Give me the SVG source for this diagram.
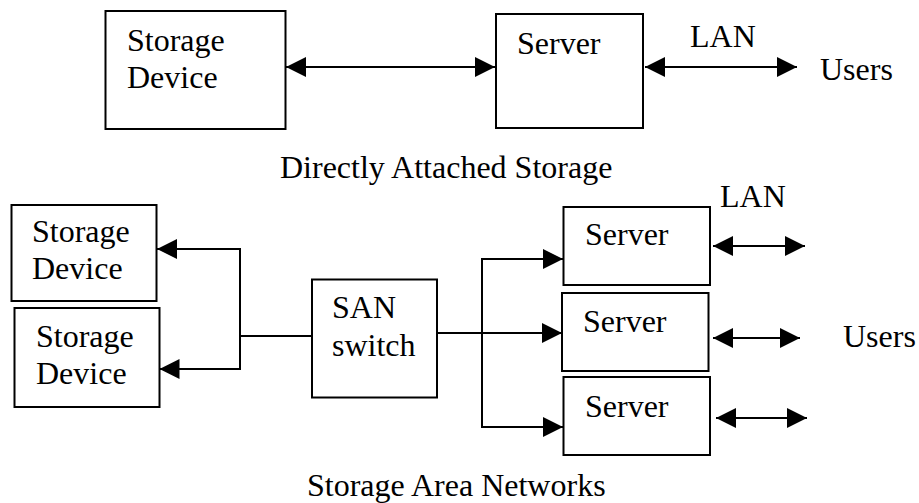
<svg xmlns="http://www.w3.org/2000/svg" width="919" height="503" viewBox="0 0 919 503">
<style>
  .box{fill:#fff;stroke:#000;stroke-width:2}
  .t{font-family:'Liberation Serif','DejaVu Serif','Times New Roman',serif;font-size:32px;fill:#000}
  .ln{fill:none;stroke:#000;stroke-width:2}
</style>
<defs>
  <marker id="ah" markerUnits="userSpaceOnUse" markerWidth="20" markerHeight="20" refX="20" refY="10" orient="auto-start-reverse" viewBox="0 0 20 20">
    <path d="M0,0 L20,10 L0,20 z" fill="#000"/>
  </marker>
</defs>
<rect width="919" height="503" fill="#fff"/>

<g font-family="Liberation Serif, DejaVu Serif, serif">
<g id="das-storage">
  <rect class="box" x="105.5" y="11" width="180" height="118"/>
  <text class="t" x="127" y="51">Storage</text>
  <text class="t" x="127" y="88">Device</text>
</g>
<g id="das-server">
  <rect class="box" x="496" y="14" width="147" height="114"/>
  <text class="t" x="517" y="54">Server</text>
</g>
<g id="das-users">
  <text class="t" x="820" y="80">Users</text>
</g>
<text class="t" x="690" y="47">LAN</text>
<text class="t" x="280" y="178">Directly Attached Storage</text>

<g id="san-storage1">
  <rect class="box" x="11.5" y="205" width="145" height="96"/>
  <text class="t" x="32" y="242">Storage</text>
  <text class="t" x="32" y="279">Device</text>
</g>
<g id="san-storage2">
  <rect class="box" x="14.5" y="308" width="145" height="99"/>
  <text class="t" x="36" y="347">Storage</text>
  <text class="t" x="36" y="384">Device</text>
</g>
<g id="san-switch">
  <rect class="box" x="312" y="279.5" width="125" height="118"/>
  <text class="t" x="332" y="318">SAN</text>
  <text class="t" x="332" y="356">switch</text>
</g>
<g id="san-server1">
  <rect class="box" x="563.5" y="207" width="146.5" height="78"/>
  <text class="t" x="585" y="245">Server</text>
</g>
<g id="san-server2">
  <rect class="box" x="562" y="293" width="146.5" height="78"/>
  <text class="t" x="583" y="332">Server</text>
</g>
<g id="san-server3">
  <rect class="box" x="563.5" y="377" width="146.5" height="78"/>
  <text class="t" x="585" y="417">Server</text>
</g>
<text class="t" x="720" y="207">LAN</text>
<g id="san-users">
  <text class="t" x="843" y="347">Users</text>
</g>
<text class="t" x="307" y="496">Storage Area Networks</text>
</g>

<g id="connectors">
  <line class="ln" x1="286" y1="67" x2="495" y2="67" marker-start="url(#ah)" marker-end="url(#ah)"/>
  <line class="ln" x1="645" y1="67" x2="797" y2="67" marker-start="url(#ah)" marker-end="url(#ah)"/>

  <polyline class="ln" points="240,336 240,249 157,249" marker-end="url(#ah)"/>
  <polyline class="ln" points="240,336 240,369 159.5,369" marker-end="url(#ah)"/>
  <line class="ln" x1="240" y1="336" x2="312" y2="336"/>

  <line class="ln" x1="437" y1="333" x2="562" y2="333" marker-end="url(#ah)"/>
  <polyline class="ln" points="482,333 482,259 563,259" marker-end="url(#ah)"/>
  <polyline class="ln" points="482,333 482,427 563,427" marker-end="url(#ah)"/>

  <line class="ln" x1="713" y1="246" x2="805" y2="246" marker-start="url(#ah)" marker-end="url(#ah)"/>
  <line class="ln" x1="713" y1="338" x2="800" y2="338" marker-start="url(#ah)" marker-end="url(#ah)"/>
  <line class="ln" x1="716" y1="418" x2="807" y2="418" marker-start="url(#ah)" marker-end="url(#ah)"/>
</g>
</svg>
